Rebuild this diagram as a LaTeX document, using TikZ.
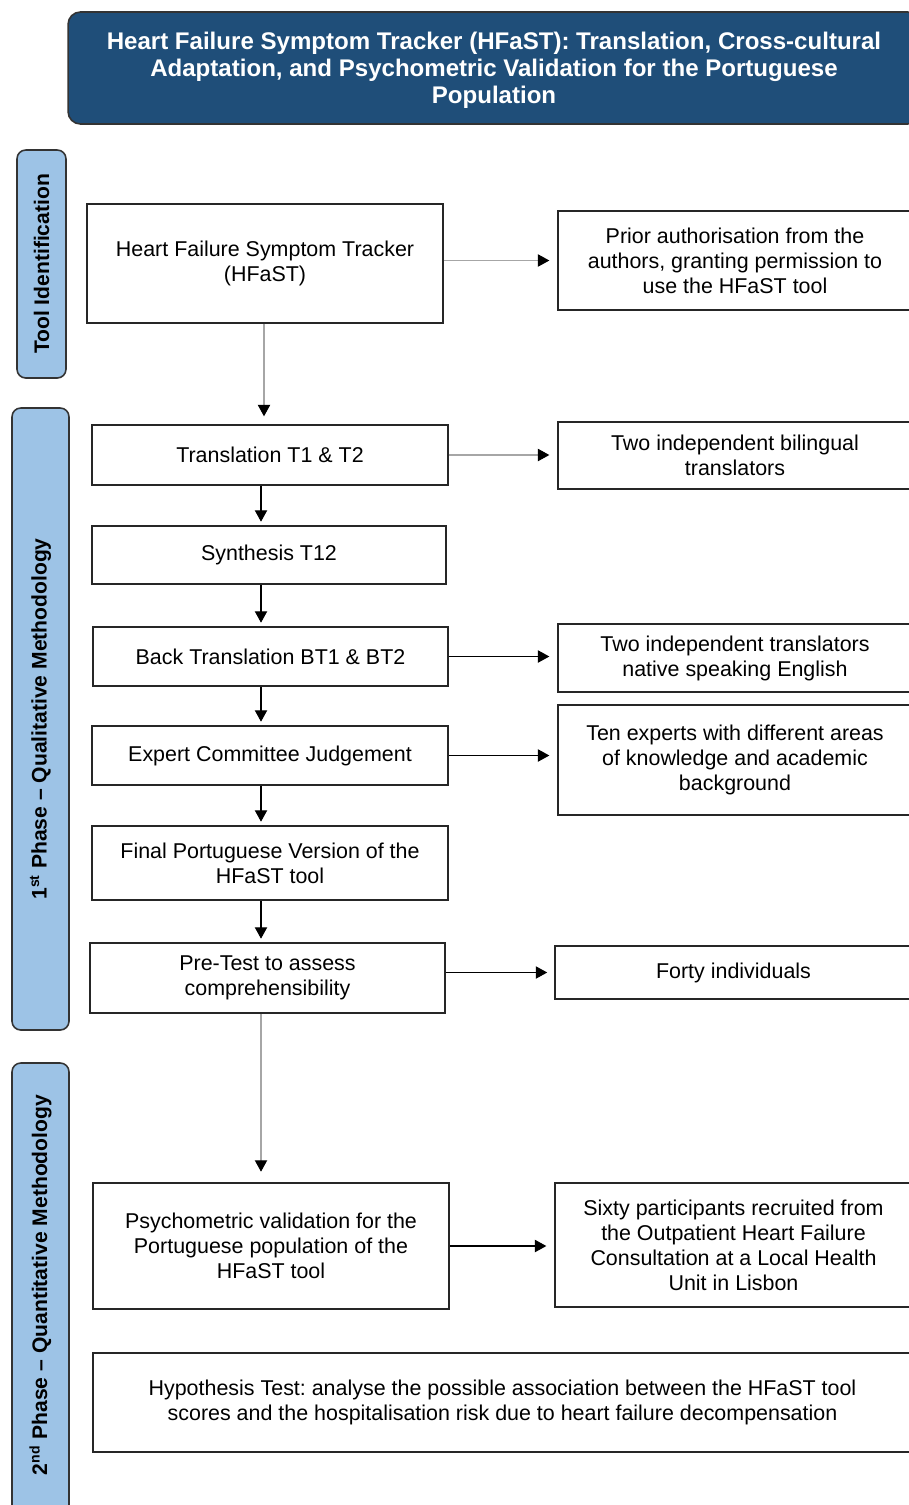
\documentclass[tikz,border=0pt]{standalone}
\usepackage{fontspec}
\setmainfont{Liberation Sans}
\usetikzlibrary{arrows.meta}
\frenchspacing
\definecolor{titleblue}{RGB}{31,78,121}
\definecolor{phaseblue}{RGB}{157,195,230}
\tikzset{
  box/.style={draw=black!85, line width=0.9pt, inner sep=0pt, align=center,
    font=\fontsize{12.2}{14.2}\selectfont},
  phasebox/.style={draw=black!80, fill=phaseblue, line width=0.9pt, rounded corners=5pt},
  phasetext/.style={rotate=90, font=\fontsize{12}{14}\bfseries\selectfont},
  arr/.style={-{Triangle[length=6.5pt,width=7pt,color=black]}, line width=0.6pt, shorten >=4.5pt},
  grayarr/.style={arr, gray!70}
}
\begin{document}
\begin{tikzpicture}[x=0.02cm, y=-0.02cm]
	\useasboundingbox (0,0) rectangle (909,1505);
	% title
	\node[box, draw=black!80, fill=titleblue, text=white, rounded corners=7pt,
	      font=\fontsize{13.7}{15.3}\bfseries\selectfont, text depth=-4pt,
	      minimum width=17.04cm, minimum height=2.24cm] (title) at (494,68)
	      {Heart Failure Symptom Tracker (HFaST): Translation, Cross-cultural\\
	       Adaptation, and Psychometric Validation for the Portuguese\\Population};
	% phases
	\draw[phasebox] (17,150) rectangle (66,378);
	\node[phasetext] (tool) at (41.5,264) {Tool Identification};
	\draw[phasebox] (12,408) rectangle (69,1030);
	\node[phasetext] (qual) at (40.5,719) {1\textsuperscript{st} Phase -- Qualitative Methodology};
	\draw[phasebox] (12,1063) rectangle (69,1515);
	\node[phasetext] (quant) at (40.5,1285) {2\textsuperscript{nd} Phase -- Quantitative Methodology};
	% left column
	\node[box, minimum width=7.12cm, minimum height=2.38cm] (hfast) at (265,263.5) {Heart Failure Symptom Tracker\\(HFaST)};
	\node[box, minimum width=7.12cm, minimum height=1.2cm] (trans) at (270,455) {Translation T1 \& T2};
	\node[box, minimum width=7.08cm, minimum height=1.16cm] (synth) at (269,555) {Synthesis T12};
	\node[box, minimum width=7.1cm, minimum height=1.18cm] (back) at (270.5,656.5) {Back Translation BT1 \& BT2};
	\node[box, minimum width=7.12cm, minimum height=1.18cm] (expert) at (270,755.5) {Expert Committee Judgement};
	\node[box, minimum width=7.12cm, minimum height=1.48cm] (final) at (270,863) {Final Portuguese Version of the\\HFaST tool};
	\node[box, minimum width=7.1cm, minimum height=1.4cm] (pretest) at (267.5,978) {Pre-Test to assess\\comprehensibility};
	\node[box, minimum width=7.12cm, minimum height=2.52cm] (psycho) at (271,1246) {Psychometric validation for the\\Portuguese population of the\\HFaST tool};
	\node[box, minimum width=16.38cm, minimum height=1.98cm] (hypo) at (502.5,1402.5)
	      {Hypothesis Test: analyse the possible association between the HFaST tool\\
	       scores and the hospitalisation risk due to heart failure decompensation};
	% right column
	\node[box, minimum width=7.08cm, minimum height=1.98cm] (prior) at (735,260.5) {Prior authorisation from the\\authors, granting permission to\\use the HFaST tool};
	\node[box, minimum width=7.08cm, minimum height=1.34cm] (bilingual) at (735,455.5) {Two independent bilingual\\translators};
	\node[box, minimum width=7.08cm, minimum height=1.36cm] (native) at (735,658) {Two independent translators\\native speaking English};
	\node[box, minimum width=7.08cm, minimum height=2.2cm] (experts) at (735,760) {Ten experts with different areas\\of knowledge and academic\\background};
	\node[box, minimum width=7.14cm, minimum height=1.06cm] (forty) at (733.5,972.5) {Forty individuals};
	\node[box, minimum width=7.14cm, minimum height=2.48cm] (sixty) at (733.5,1245) {Sixty participants recruited from\\the Outpatient Heart Failure\\Consultation at a Local Health\\Unit in Lisbon};
	% vertical flow
	\coordinate (col) at (261,0);
	\coordinate (topcol) at (264,0);
	\draw[grayarr] (hfast.south -| topcol) -- (trans.north -| topcol);
	\draw[arr, shorten >=2pt] (trans.south -| col) -- (synth.north -| col);
	\draw[arr, shorten >=2pt] (synth.south -| col) -- (back.north -| col);
	\draw[arr, shorten >=2pt] (back.south -| col) -- (expert.north -| col);
	\draw[arr, shorten >=2pt] (expert.south -| col) -- (final.north -| col);
	\draw[arr, shorten >=2pt] (final.south -| col) -- (pretest.north -| col);
	\draw[grayarr, shorten >=6pt] (pretest.south -| col) -- (psycho.north -| col);
	% side arrows
	\draw[grayarr] (hfast.east |- prior) -- (prior);
	\draw[grayarr] (trans) -- (trans -| bilingual.west);
	\draw[arr] (back) -- (back -| native.west);
	\draw[arr] (expert) -- (expert -| experts.west);
	\draw[arr, shorten >=4pt] (pretest.east |- forty) -- (forty);
	\draw[arr] (psycho) -- (psycho -| sixty.west);
\end{tikzpicture}
\end{document}
